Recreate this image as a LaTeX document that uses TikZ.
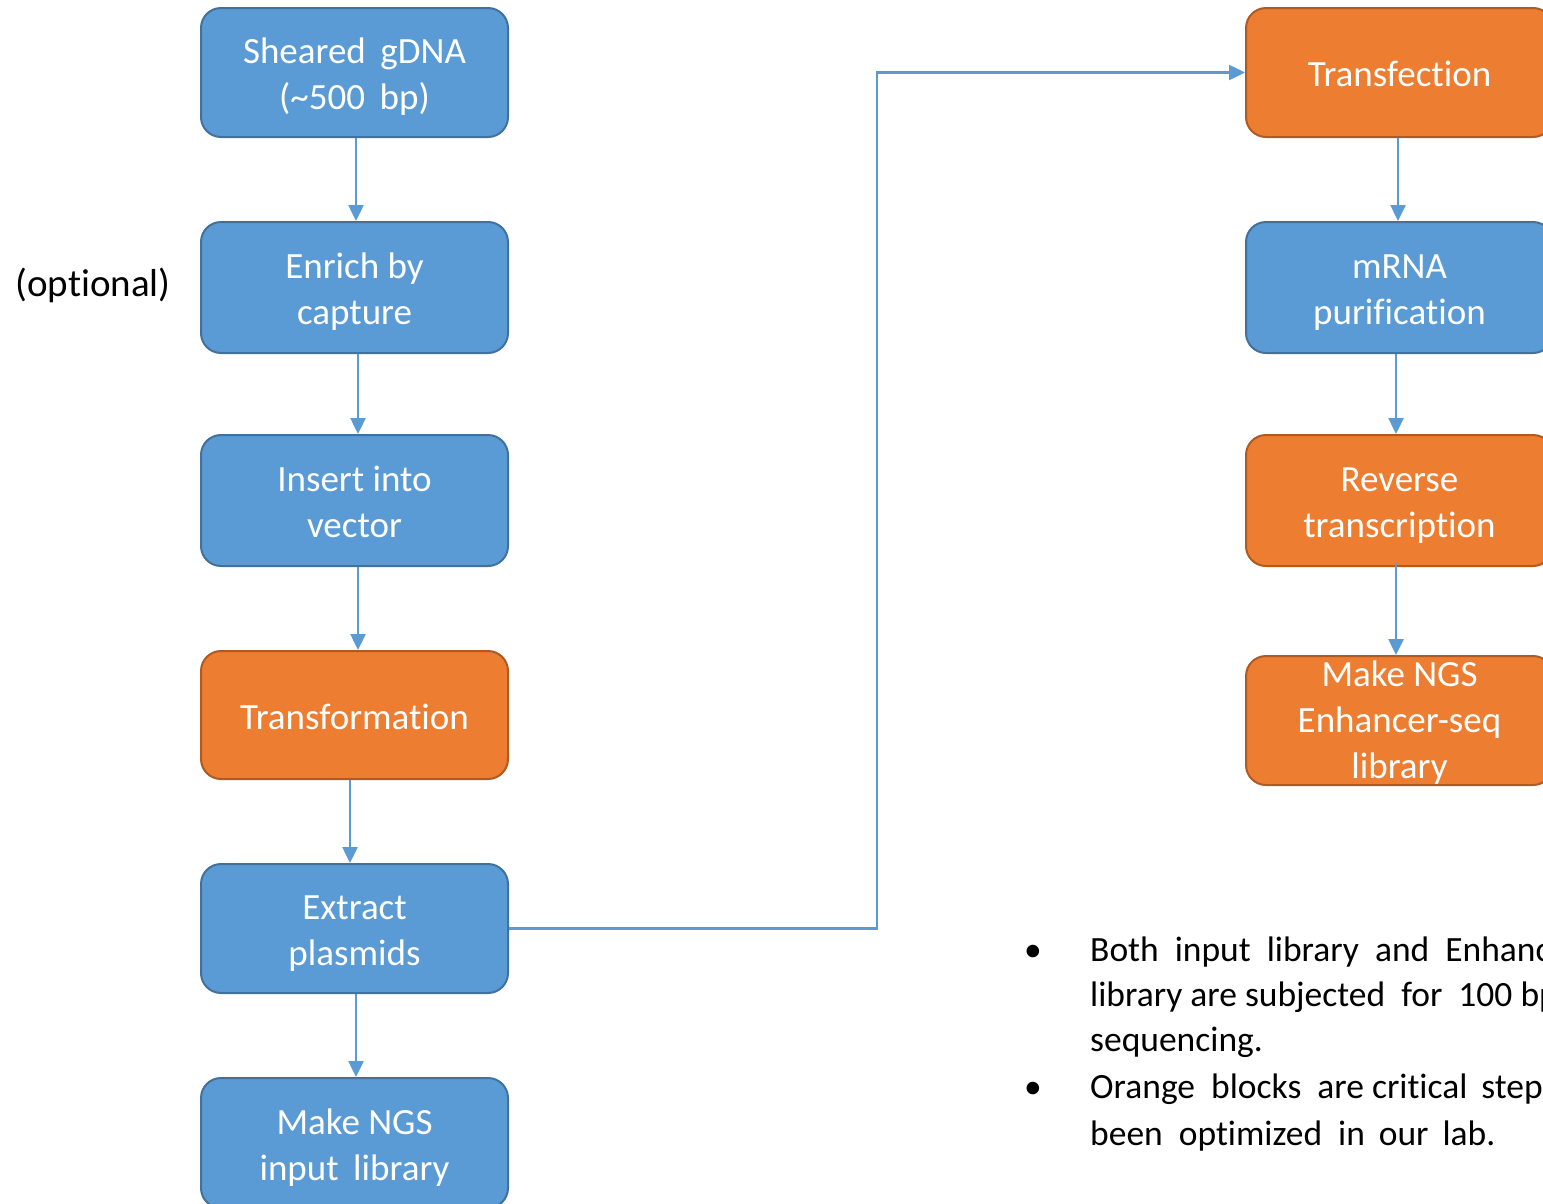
\documentclass[tikz,border=0pt]{standalone}
\usepackage{fontspec}
\setmainfont{Carlito}[Ligatures=NoCommon]
\usetikzlibrary{arrows.meta}
\definecolor{stepblue}{HTML}{5B9BD5}
\definecolor{stepblueedge}{HTML}{41719C}
\definecolor{steporange}{HTML}{ED7D31}
\definecolor{steporangeedge}{HTML}{AE5A21}
% box label: centred lines, set a little below the box centre; its reported
% size is kept small so that the box keeps its own height
\newcommand\steptext[2][5pt]{\raisebox{-#1}[\dimexpr(\height-\depth)/2+40pt\relax][\dimexpr 40pt-(\height-\depth)/2\relax]{\begin{tabular}{@{}c@{}}#2\end{tabular}}}
\tikzset{
  stepbox/.style={rectangle, rounded corners=20pt, line width=2pt,
    minimum width=307pt, minimum height=130pt, inner sep=0pt,
    text=white, font=\fontsize{37}{46}\selectfont},
  bluestep/.style={stepbox, fill=stepblue, draw=stepblueedge},
  orangestep/.style={stepbox, fill=steporange, draw=steporangeedge},
  flow/.style={draw=stepblue, line width=2.5pt,
    -{Triangle[width=15pt,length=16pt]}},
  note/.style={anchor=base west, inner sep=0pt, text=black,
    font=\fontsize{35.5}{45}\selectfont},
}
\begin{document}
\begin{tikzpicture}[x=1pt, y=-1pt]
\useasboundingbox (0,0) rectangle (1543,1203);
\clip (0,0) rectangle (1543,1203);

% left column: library preparation
\node[bluestep, minimum height=129pt] (s1) at (354.5,72.5) {\steptext{Sheared\ \,gDNA\\(\textasciitilde500\ \,bp)}};
\node[bluestep, minimum height=131pt] (s2) at (354.5,287.5) {\steptext{Enrich by\\capture}};
\node[bluestep, minimum height=131pt] (s3) at (354.5,500.5) {\steptext{Insert into\\vector}};
\node[orangestep, minimum height=128pt] (s4) at (354.5,715) {\steptext{Transformation}};
\node[bluestep, minimum height=129pt] (s5) at (354.5,928.5) {\steptext{Extract\\plasmids}};
\node[bluestep, minimum height=130pt] (s6) at (354.5,1143) {\steptext{Make NGS\\input\ \,library}};

\node[anchor=center, inner sep=0pt, font=\fontsize{39}{46}\selectfont] (opt) at (93,285) {(optional)};

% right column: enhancer assay
\node[orangestep, minimum height=129pt] (r1) at (1399.5,72.5) {\steptext{Transfection}};
\node[bluestep, minimum height=131pt] (r2) at (1399.5,287.5) {\steptext{mRNA\\purification}};
\node[orangestep, minimum height=131pt] (r3) at (1399.5,500.5) {\steptext{Reverse\\transcription}};
\node[orangestep, minimum height=129pt] (r4) at (1399.5,720.5) {\steptext[3pt]{Make NGS\\Enhancer-seq\\library}};

% arrows within the columns
\draw[flow] ([xshift=1.5pt]s1.south) -- ([xshift=1.5pt]s2.north);
\draw[flow] ([xshift=3.5pt]s2.south) -- ([xshift=3.5pt]s3.north);
\draw[flow] ([xshift=3.5pt]s3.south) -- ([xshift=3.5pt]s4.north);
\draw[flow] ([xshift=-4.5pt]s4.south) -- ([xshift=-4.5pt]s5.north);
\draw[flow] ([xshift=1.5pt]s5.south) -- ([xshift=1.5pt]s6.north);

\draw[flow] ([xshift=-1.5pt]r1.south) -- ([xshift=-1.5pt]r2.north);
\draw[flow] ([xshift=-3.5pt]r2.south) -- ([xshift=-3.5pt]r3.north);
\draw[flow] ([xshift=-3.5pt,yshift=4pt]r3.south) -- ([xshift=-3.5pt]r4.north);

% link from the plasmid prep to transfection
\coordinate (turn) at (877,928.5);
\draw[flow] (s5.east) -- (turn) |- (r1.west);

% notes
\node[note] (d1) at (1024,961) {\textbullet};
\node[note] (n1) at (1090,961) {Both\ \ input\ \ library\ \ and\ \ Enhancer-seq};
\node[note] (n2) at (1090,1006) {library are subjected\ \ for\ \ 100 bp};
\node[note] (n3) at (1090,1051) {sequencing.};
\node[note] (d2) at (1024,1098) {\textbullet};
\node[note] (n4) at (1090,1098) {Orange\ \ blocks\ \ are critical\ \,steps};
\node[note] (n5) at (1090,1145) {been\ \ optimized\ \ in\ \,our\ \,lab.};
\end{tikzpicture}
\end{document}
